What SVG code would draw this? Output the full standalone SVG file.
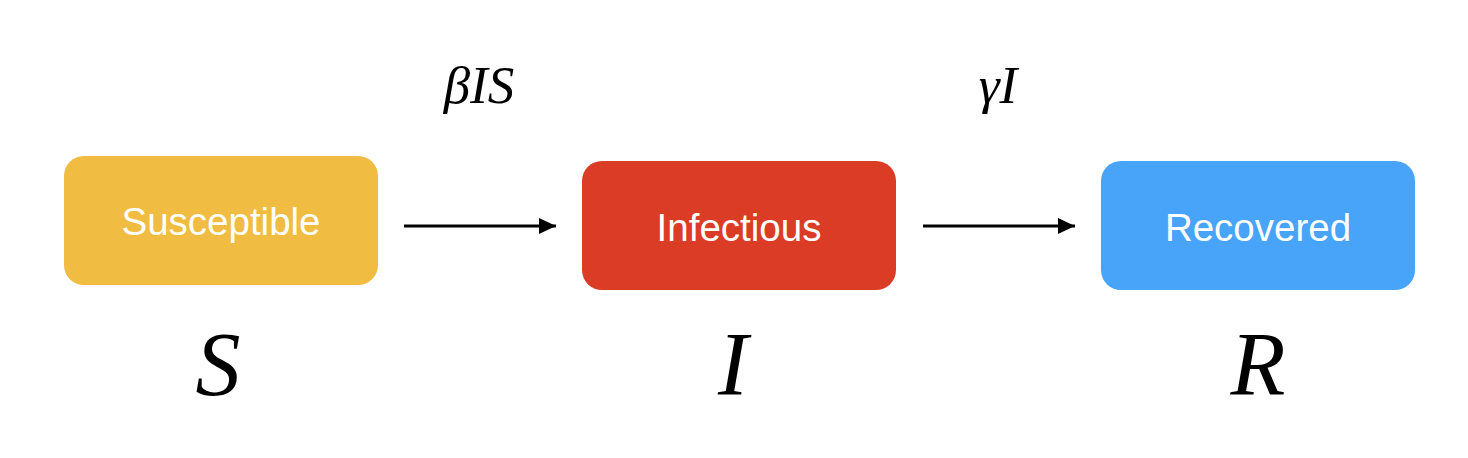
<svg xmlns="http://www.w3.org/2000/svg" width="1468" height="458" viewBox="0 0 1468 458">
<style>
.box-label{font-family:"Liberation Sans",Arial,sans-serif;font-size:38.5px;fill:#ffffff;text-anchor:middle}
.math{font-family:"Liberation Serif","Times New Roman",serif;font-style:italic;fill:#000000;text-anchor:middle}
.conn{stroke:#000000;stroke-width:3;fill:none}
</style>
<defs>
<marker id="arrow" markerWidth="17" markerHeight="16" refX="17" refY="8" orient="auto" markerUnits="userSpaceOnUse">
<path d="M0,0 L17,8 L0,16 Z" fill="#000000"/>
</marker>
</defs>
<rect width="1468" height="458" fill="#ffffff"/>
<g id="susceptible">
<rect x="64" y="156" width="314" height="129" rx="20" fill="#F0BC42"/>
<text class="box-label" x="221" y="235">Susceptible</text>
</g>
<g id="infectious">
<rect x="582" y="161" width="314" height="129" rx="20" fill="#DB3C26"/>
<text class="box-label" x="739" y="241">Infectious</text>
</g>
<g id="recovered">
<rect x="1101" y="161" width="314" height="129" rx="20" fill="#48A4F8"/>
<text class="box-label" x="1258" y="241">Recovered</text>
</g>
<g id="connectors">
<line class="conn" x1="404" y1="226" x2="556" y2="226" marker-end="url(#arrow)"/>
<line class="conn" x1="923" y1="226" x2="1075" y2="226" marker-end="url(#arrow)"/>
</g>
<g id="labels">
<text class="math" x="479" y="103" font-size="53">βIS</text>
<text class="math" x="998" y="103" font-size="53">γI</text>
<text class="math" x="218" y="395" font-size="90">S</text>
<text class="math" x="733" y="395" font-size="90">I</text>
<text class="math" x="1258" y="395" font-size="90">R</text>
</g>
</svg>
